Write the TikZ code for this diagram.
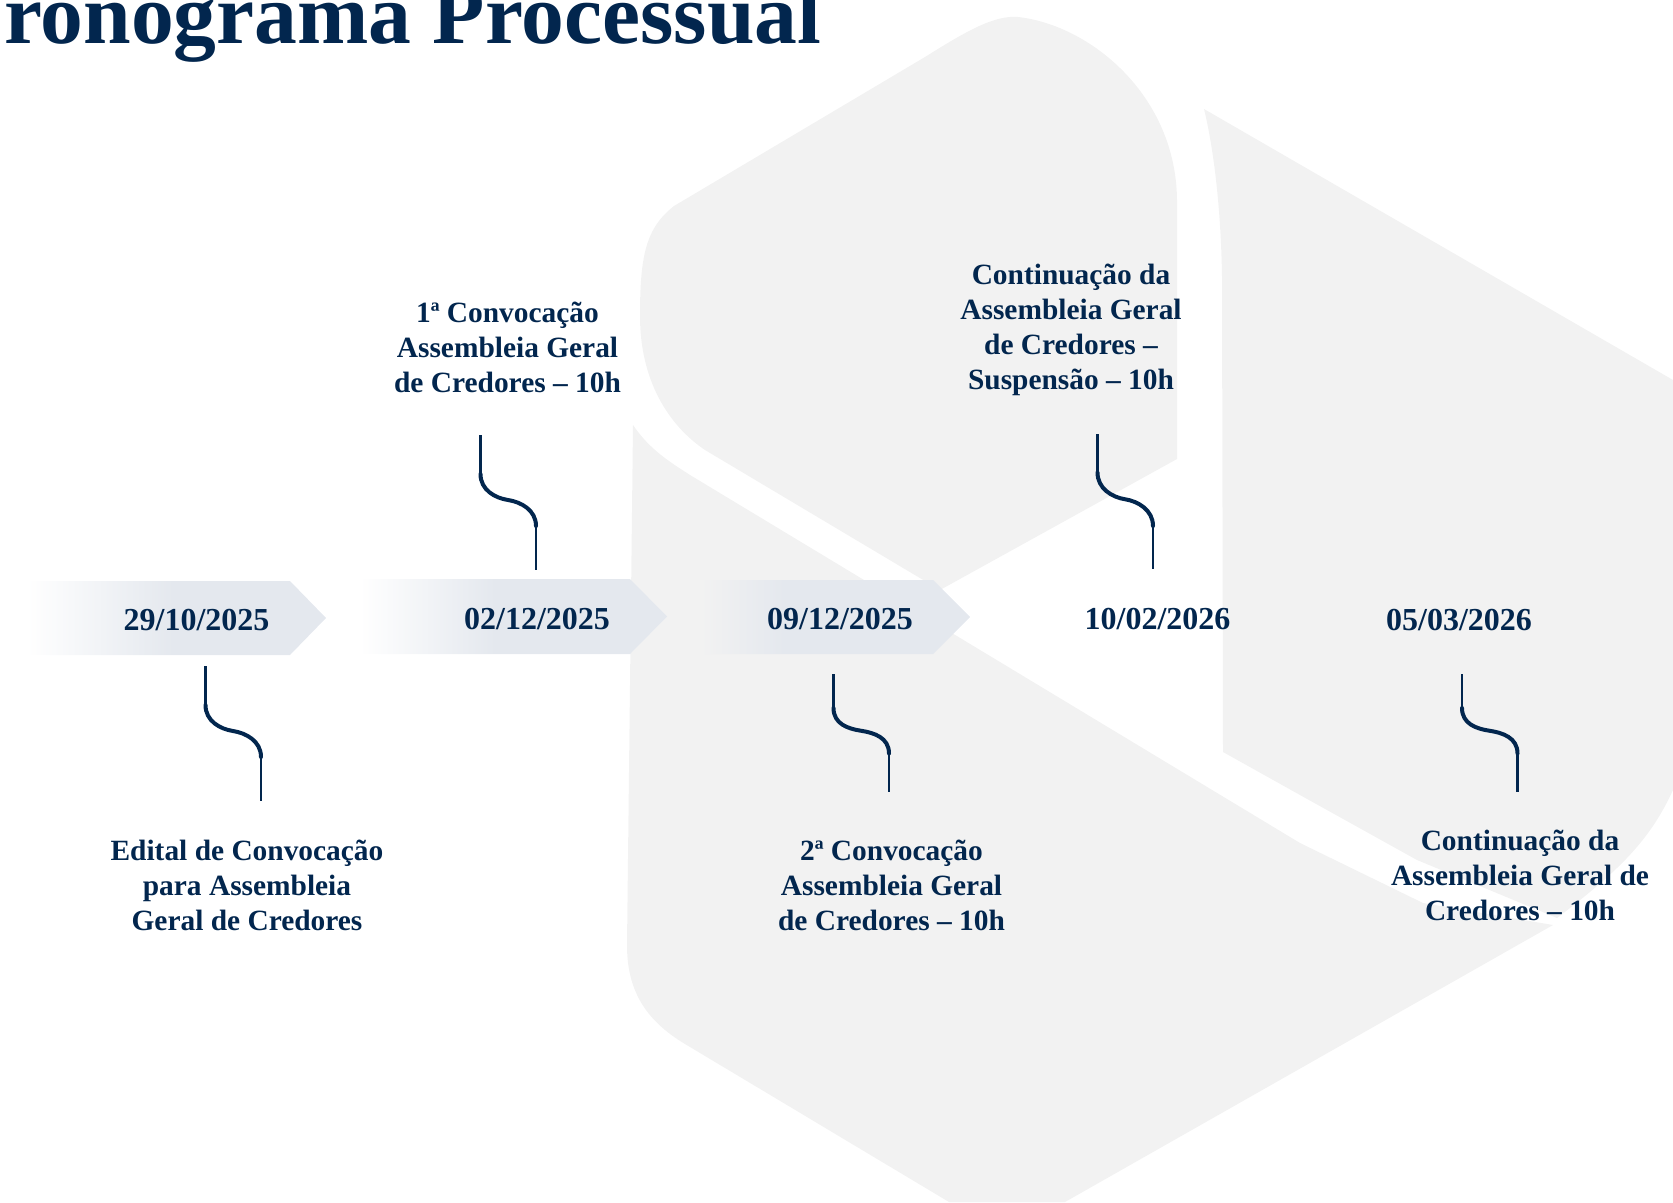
\documentclass[tikz,border=0pt]{standalone}
\usepackage{fontspec}
\setmainfont{Liberation Serif}
\definecolor{navy}{HTML}{02264E}
\definecolor{wm}{HTML}{F2F2F2}
\definecolor{arrowfill}{HTML}{E4E8EE}
\pgfdeclarehorizontalshading{bannerA}{100bp}{color(0bp)=(white); color(25bp)=(white); color(49.5bp)=(arrowfill); color(100bp)=(arrowfill)}
\pgfdeclarehorizontalshading{bannerB}{100bp}{color(0bp)=(white); color(25bp)=(white); color(47bp)=(arrowfill); color(100bp)=(arrowfill)}
\pgfdeclarehorizontalshading{bannerC}{100bp}{color(0bp)=(wm); color(25bp)=(wm); color(40.7bp)=(arrowfill); color(100bp)=(arrowfill)}
\tikzset{
  wmshape/.style={fill=wm,draw=none},
  datelabel/.style={text=navy,font=\fontsize{32}{36}\selectfont\bfseries,inner sep=0pt},
  eventlabel/.style={text=navy,font=\fontsize{29.4}{35}\selectfont\bfseries,align=center,inner sep=0pt},
  titlelabel/.style={text=navy,font=\fontsize{85.6}{90}\selectfont\bfseries,anchor=base west,inner sep=0pt},
  thinline/.style={draw=navy,line width=2.2pt},
  thickline/.style={draw=navy,line width=4pt,line cap=round}
}
\newcommand{\banner}[6]{% left, shoulder, tip, top, bottom, shading
  \shade[shading=#6,draw=none] (#1,#4) -- (#2,#4) -- (#3,{(#4+#5)/2}) -- (#2,#5) -- (#1,#5) -- cycle;
}
\newcommand{\squiggle}[6]{% name, x, ytop, ybot, ythick1, ythick2
  \coordinate (#1a) at (#2,#3);
  \coordinate (#1b) at (#2,#5);
  \coordinate (#1m) at (#2+27.5,{(#5+#6)/2});
  \coordinate (#1c) at (#2+55.5,#6);
  \coordinate (#1d) at (#2+55.5,#4);
  \draw[thinline] (#1a) -- (#1b);
  \draw[thickline] (#1b) .. controls +(0,16) and +(-13,-2) .. (#1m) .. controls +(13,2) and +(0,-16) .. (#1c);
  \draw[thinline] (#1c) -- (#1d);
}
\begin{document}
\begin{tikzpicture}[x=1pt,y=-1pt]
\useasboundingbox (0,0) rectangle (1673,1202);
\begin{scope}
\clip (0,0) rectangle (1673,1202);
% watermark: upper hexagon part
\fill[wmshape] (640,316) .. controls (640,255) and (646,228) .. (674,206)
  -- (925,57) .. controls (968,30) and (995,15) .. (1018,17)
  .. controls (1090,25) and (1176,95) .. (1177,200)
  -- (1177,459) -- (940,590) -- (705,450)
  .. controls (668,425) and (640,380) .. (640,316) -- cycle;
% watermark: lower part
\fill[wmshape] (633,425) .. controls (650,450) and (670,462) .. (690,475)
  -- (1300,843) -- (1423,903) -- (1553,925) -- (1065,1202) -- (949,1202) -- (685,1044)
  .. controls (645,1020) and (627,990) .. (627,945) -- cycle;
% watermark: right part
\fill[wmshape] (1204,109) -- (1673,380) -- (1673,790)
  .. controls (1650,840) and (1620,870) .. (1557,918)
  -- (1417,860) -- (1300,795)
  -- (1223,752) -- (1222,277) .. controls (1221,210) and (1214,150) .. (1204,109) -- cycle;
\end{scope}
% banners
\banner{27}{290}{326}{581}{655}{bannerA}
\banner{360}{630}{667}{579}{654}{bannerB}
\banner{700}{933}{970}{580}{654}{bannerC}
% title
\node[titlelabel] (title) at (4,43) {ronograma Processual};
% dates
\node[datelabel] (d1) at (196.5,620) {29/10/2025};
\node[datelabel] (d2) at (537,619) {02/12/2025};
\node[datelabel] (d3) at (840,619) {09/12/2025};
\node[datelabel] (d4) at (1157.5,619) {10/02/2026};
\node[datelabel] (d5) at (1459,620) {05/03/2026};
% events
\node[eventlabel] (e1) at (247,885) {Edital de Convocação\\para Assembleia\\Geral de Credores};
\node[eventlabel] (e2) at (507.5,347) {1ª Convocação\\Assembleia Geral\\de Credores – 10h};
\node[eventlabel] (e3) at (891.5,885) {2ª Convocação\\Assembleia Geral\\de Credores – 10h};
\node[eventlabel] (e4) at (1071,330) {Continuação da\\Assembleia Geral\\de Credores –\\Suspensão – 10h};
\node[eventlabel] (e5) at (1520,875) {Continuação da\\Assembleia Geral de\\Credores – 10h};
% connectors
\squiggle{sa}{205.5}{666}{801}{705}{757}
\squiggle{sb}{480.5}{435}{570}{474}{526}
\squiggle{sc}{833.5}{674}{792}{708}{753.5}
\squiggle{sd}{1097.5}{434}{569}{472.5}{526}
\squiggle{se}{1462}{674}{792}{708}{753.5}
\end{tikzpicture}
\end{document}
